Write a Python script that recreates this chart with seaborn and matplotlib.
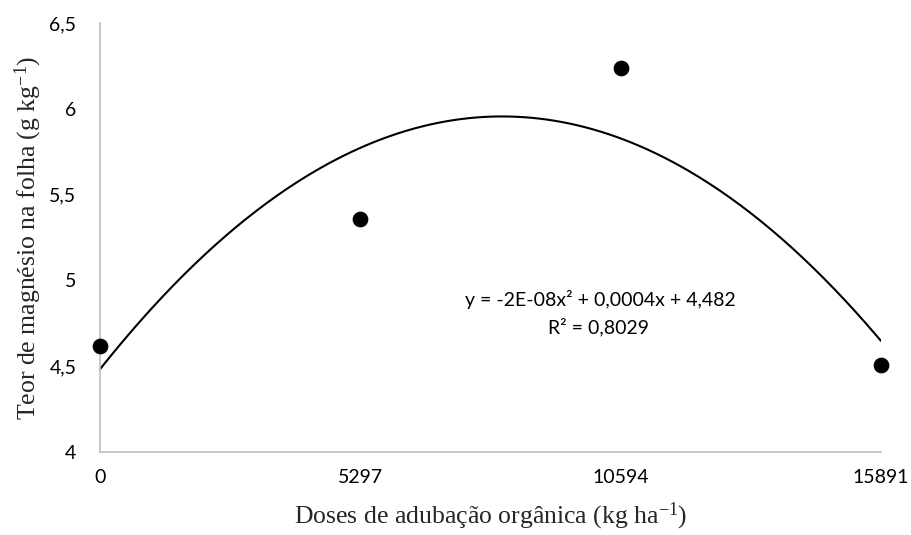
import numpy as np
import pandas as pd
import matplotlib
matplotlib.use("Agg")
import matplotlib.pyplot as plt
import seaborn as sns

# Doses of organic fertilizer and leaf magnesium content
doses = [0, 5297, 10594, 15891]
magnesio = [4.62, 5.36, 6.24, 4.51]
x_ticks = [0, 5297, 10594, 15891]
y_ticks = [4, 4.5, 5, 5.5, 6, 6.5]
y_tick_labels = ["4", "4,5", "5", "5,5", "6", "6,5"]
equation = "y = -2E-08x² + 0,0004x + 4,482"
r2_text = "R² = 0,8029"

sns.set_theme(style="white")
plt.rcParams["font.family"] = ["Lato", "DejaVu Sans"]
plt.rcParams["mathtext.fontset"] = "custom"
plt.rcParams["mathtext.rm"] = "Liberation Serif"
plt.rcParams["mathtext.it"] = "Liberation Serif:italic"
plt.rcParams["mathtext.bf"] = "Liberation Serif:bold"

df = pd.DataFrame({"dose": doses, "mg": magnesio})

# Second-order polynomial trendline
coef = np.polyfit(df["dose"], df["mg"], 2)
xs = np.linspace(0, max(doses), 300)
trend = pd.DataFrame({"dose": xs, "mg": np.polyval(coef, xs)})

fig = plt.figure(figsize=(9.12, 5.35), dpi=100)
ax = fig.add_axes([0.1096, 0.155, 0.8564, 0.802])

sns.lineplot(data=trend, x="dose", y="mg", ax=ax, color="black", linewidth=1.5)
sns.scatterplot(data=df, x="dose", y="mg", ax=ax, color="black", s=110,
                edgecolor="black", zorder=3, clip_on=False)

ax.set_xlim(0, 15891)
ax.set_ylim(4, 6.5)
ax.set_xticks(x_ticks)
ax.set_xticklabels([str(v) for v in x_ticks], fontsize=14)
ax.set_yticks(y_ticks)
ax.set_yticklabels(y_tick_labels, fontsize=14)
ax.tick_params(axis="both", length=0, colors="black")
ax.tick_params(axis="x", pad=12)
ax.tick_params(axis="y", pad=17)

for side in ["top", "right"]:
    ax.spines[side].set_visible(False)
for side in ["left", "bottom"]:
    ax.spines[side].set_color("#BFBFBF")
    ax.spines[side].set_linewidth(1.2)

serif = {"family": ["Liberation Serif", "DejaVu Serif"], "size": 18.5}
ax.set_xlabel(r"Doses de adubação orgânica (kg ha$^{\mathrm{-1}}$)", fontdict=serif, labelpad=11)
ax.set_ylabel(r"Teor de magnésio na folha (g kg$^{\mathrm{-1}}$)", fontdict=serif, labelpad=4)

ax.text(0.641, 0.355, equation, transform=ax.transAxes, ha="center", va="center",
        fontsize=14, color="black")
ax.text(0.638, 0.292, r2_text, transform=ax.transAxes, ha="center", va="center",
        fontsize=14, color="black")

fig.savefig("out.png", dpi=100, facecolor="white")
